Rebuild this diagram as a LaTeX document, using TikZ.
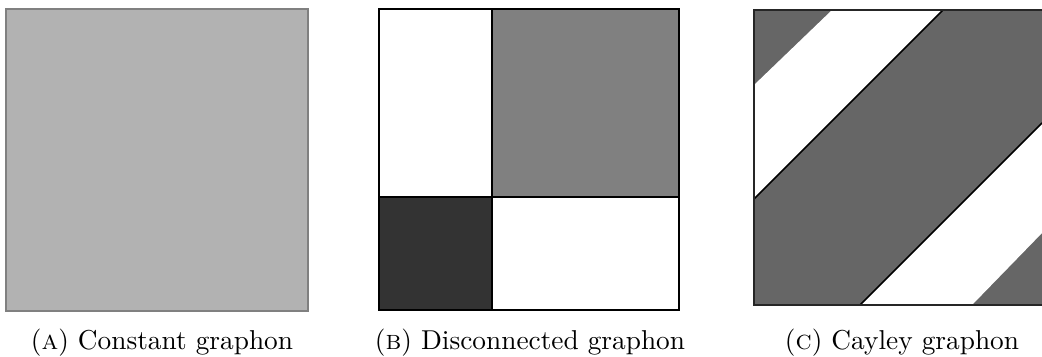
\documentclass[tikz,border=0pt]{standalone}
\usetikzlibrary{positioning}
\tikzstyle{frame}=[draw=black, line width=0.75pt]
\tikzstyle{cutline}=[draw=black, line width=0.6pt]
\tikzstyle{capnode}=[anchor=base, inner sep=0, outer sep=0]
\newcommand{\captext}[3]{\node[capnode] (#1) at (#2, 349) {#3};}
\begin{document}
\begin{tikzpicture}[x=0.366pt, y=-0.366pt]
\useasboundingbox (0,0) rectangle (1042,356);

% constant graphon
\fill[black!30] (6,9) rectangle (308,311);
\draw[black!50, line width=0.6pt] (6,9) rectangle (308,311);

% disconnected graphon
\fill[black!50] (492,9) rectangle (679,197);
\fill[black!80] (379,197) rectangle (492,310);
\draw[frame] (379,9) rectangle (679,310);
\draw[frame] (492,9) -- (492,310);
\draw[frame] (379,197) -- (679,197);

% cayley graphon
\fill[black!60] (754,10) rectangle (1042,305);
\fill[white] (754,85) -- (832,10) -- (943,10) -- (754,199) -- cycle;
\fill[white] (860,305) -- (1042,123) -- (1042,233) -- (972,305) -- cycle;
\draw[cutline] (943,10) -- (754,199);
\draw[cutline] (860,305) -- (1042,123);
\draw[frame, draw=black!85, line width=0.9pt] (1042,10) -- (754,10) -- (754,305) -- (1042,305);

\captext{capa}{162}{(\textsc{a}) Constant graphon}
\captext{capb}{530}{(\textsc{b}) Disconnected graphon}
\captext{capc}{902}{(\textsc{c}) Cayley graphon}
\end{tikzpicture}
\end{document}
